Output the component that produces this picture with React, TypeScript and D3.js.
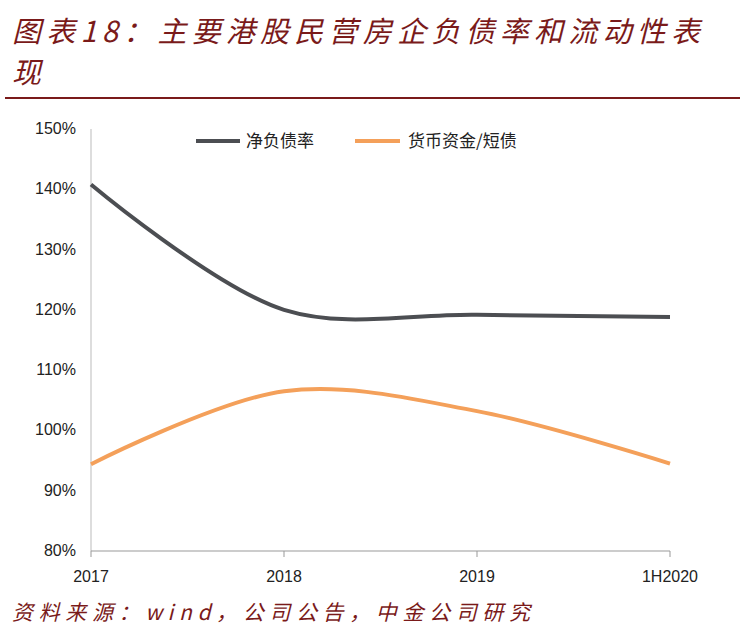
import * as d3 from 'd3';

const categories = ['2017', '2018', '2019', '1H2020'];
const netDebt = [140.8, 120.0, 119.2, 118.8];
const cashToShort = [94.4, 106.5, 103.2, 94.5];
const yTicks = [80, 90, 100, 110, 120, 130, 140, 150];

const W = 745;
const H = 637;
const red = '#7a1a1a';

const App = () => {
  const x = d3.scalePoint<string>().domain(categories).range([91, 670]);
  const y = d3.scaleLinear().domain([80, 150]).range([551, 129]);
  const line = d3
    .line<number>()
    .x((_, i) => x(categories[i]) as number)
    .y(d => y(d))
    .curve(d3.curveCatmullRom.alpha(0.5));

  return (
    <svg width={W} height={H} style={{ position: 'absolute', left: 0, top: 0 }}>
      <rect width={W} height={H} fill="#fff" />
      <g fill={red} fontFamily="'Noto Sans CJK SC', serif" fontStyle="italic" fontSize={29}>
        <text x={12} y={42} textLength={688} lengthAdjust="spacing">图表18：主要港股民营房企负债率和流动性表</text>
        <text x={12} y={83}>现</text>
      </g>
      <line x1={5} x2={740} y1={98} y2={98} stroke={red} strokeWidth={2} />

      <g fontFamily="Arial, 'Liberation Sans', sans-serif" fontSize={16} fill="#222">
        {yTicks.map(t => (
          <text key={t} x={76} y={y(t) + 5} textAnchor="end">{t}%</text>
        ))}
        {categories.map(c => (
          <text key={c} x={x(c) as number} y={582} textAnchor="middle">{c}</text>
        ))}
      </g>
      <line x1={91} x2={91} y1={129} y2={551} stroke="#bbb" />
      <line x1={91} x2={670} y1={551} y2={551} stroke="#999" />
      {categories.map(c => (
        <line key={c} x1={x(c) as number} x2={x(c) as number} y1={551} y2={557} stroke="#999" />
      ))}

      <path d={line(netDebt) ?? ''} fill="none" stroke="#4c4e52" strokeWidth={4} />
      <path d={line(cashToShort) ?? ''} fill="none" stroke="#f4a05a" strokeWidth={4} />

      <g fontFamily="'Noto Sans CJK SC', sans-serif" fontSize={17} fill="#222">
        <line x1={196} x2={240} y1={141} y2={141} stroke="#4c4e52" strokeWidth={4} />
        <text x={246} y={147}>净负债率</text>
        <line x1={355} x2={400} y1={141} y2={141} stroke="#f4a05a" strokeWidth={4} />
        <text x={408} y={147}>货币资金/短债</text>
      </g>

      <text x={12} y={620} fill={red} fontFamily="'Noto Sans CJK SC', serif" fontStyle="italic" fontSize={21} textLength={518} lengthAdjust="spacing">
        资料来源：wind，公司公告，中金公司研究
      </text>
    </svg>
  );
};

export default App;
